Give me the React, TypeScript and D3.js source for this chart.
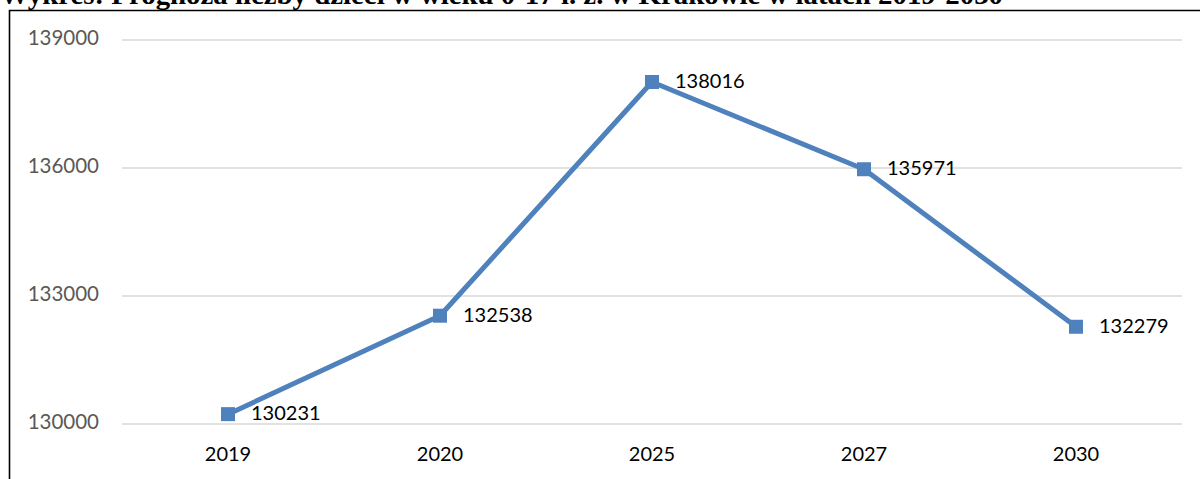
import React from "react";
import * as d3 from "d3";

const title = "Wykres: Prognoza liczby dzieci w wieku 0-17 l. ż. w Krakowie w latach 2019-2030";
const years = ["2019", "2020", "2025", "2027", "2030"];
const values = [130231, 132538, 138016, 135971, 132279];
const yTicks = [130000, 133000, 136000, 139000];

const W = 1200;
const H = 479;

export default function App() {
  const x = d3.scalePoint<string>().domain(years).range([122, 1182]).padding(0.5);
  const y = d3.scaleLinear().domain([130000, 139000]).range([424, 40]);
  const line = d3
    .line<number>()
    .x((_, i) => x(years[i]) as number)
    .y((d) => y(d));
  const font = "Lato, 'Open Sans', sans-serif";
  return (
    <svg
      width={W}
      height={H}
      style={{ position: "absolute", left: 0, top: 0, background: "#fff" }}
    >
      <rect x={0} y={0} width={W} height={H} fill="#fff" />
      <text
        x={0}
        y={4}
        fontFamily="'Liberation Serif', 'Times New Roman', serif"
        fontWeight="bold"
        fontSize={27}
        textLength={1003}
        lengthAdjust="spacingAndGlyphs"
        fill="#000"
      >
        {title}
      </text>
      <path d={`M${W + 10},10.5 H9.5 V${H + 10}`} fill="none" stroke="#000" strokeWidth={1.6} />
      {yTicks.map((t) => (
        <g key={t}>
          <line x1={122} x2={1182} y1={y(t)} y2={y(t)} stroke="#D9D9D9" strokeWidth={1.5} />
          <text
            x={99}
            y={y(t)}
            textAnchor="end"
            dominantBaseline="middle"
            fontFamily={font}
            fontSize={20.5}
            fill="#595959"
          >
            {t}
          </text>
        </g>
      ))}
      {years.map((yr) => (
        <text
          key={yr}
          x={x(yr)}
          y={456}
          textAnchor="middle"
          dominantBaseline="middle"
          fontFamily={font}
          fontSize={20}
          fill="#000"
        >
          {yr}
        </text>
      ))}
      <path d={line(values) || ""} fill="none" stroke="#4F81BD" strokeWidth={5} strokeLinejoin="round" />
      {values.map((v, i) => (
        <g key={i}>
          <rect
            x={(x(years[i]) as number) - 7}
            y={y(v) - 7}
            width={14}
            height={14}
            fill="#4F81BD"
          />
          <text
            x={(x(years[i]) as number) + 23}
            y={y(v) + 1}
            dominantBaseline="middle"
            fontFamily={font}
            fontSize={20}
            fill="#000"
          >
            {v}
          </text>
        </g>
      ))}
    </svg>
  );
}
